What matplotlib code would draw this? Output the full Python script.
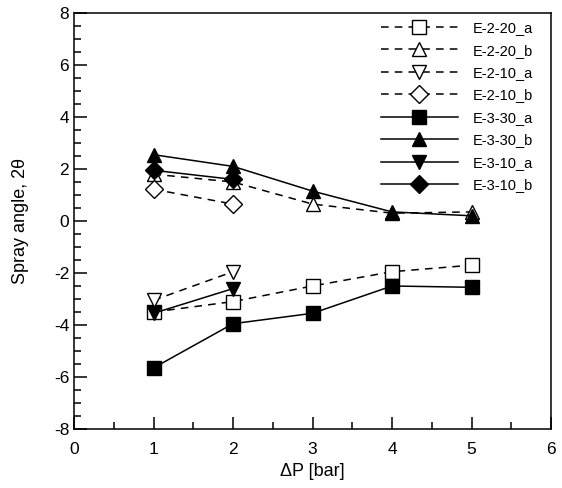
import matplotlib
matplotlib.use("Agg")
from matplotlib import pyplot as plt
from matplotlib.ticker import MultipleLocator

plt.rcParams['font.family'] = ['Liberation Sans', 'DejaVu Sans']
plt.rcParams['axes.unicode_minus'] = False

# data
dp = [1, 2, 3, 4, 5]
dp_short = [1, 2]

e2_20_a = [-3.5, -3.1, -2.5, -1.95, -1.7]
e2_20_b = [1.8, 1.5, 0.65, 0.3, 0.35]
e2_10_a = [-3.05, -1.95]
e2_10_b = [1.22, 0.65]
e3_30_a = [-5.65, -3.95, -3.55, -2.5, -2.55]
e3_30_b = [2.55, 2.1, 1.15, 0.35, 0.2]
e3_10_a = [-3.55, -2.6]
e3_10_b = [1.95, 1.6]

fig = plt.figure(figsize=(5.62, 4.88), dpi=100)
ax = fig.add_axes([0.1317, 0.1209, 0.8488, 0.8525])

ms = 10.5
open_kw = dict(color='black', linestyle='--', markerfacecolor='white',
               markeredgecolor='black', markersize=ms, linewidth=1.1,
               dashes=(5, 4))
fill_kw = dict(color='black', linestyle='-', markerfacecolor='black',
               markeredgecolor='black', markersize=ms, linewidth=1.1)

ax.plot(dp, e2_20_a, marker='s', label='E-2-20_a', **open_kw)
ax.plot(dp, e2_20_b, marker='^', label='E-2-20_b', **open_kw)
ax.plot(dp_short, e2_10_a, marker='v', label='E-2-10_a', **open_kw)
ax.plot(dp_short, e2_10_b, marker='D', label='E-2-10_b',
        **{**open_kw, 'markersize': 9.5})
ax.plot(dp, e3_30_a, marker='s', label='E-3-30_a', **fill_kw)
ax.plot(dp, e3_30_b, marker='^', label='E-3-30_b', **fill_kw)
ax.plot(dp_short, e3_10_a, marker='v', label='E-3-10_a', **fill_kw)
ax.plot(dp_short, e3_10_b, marker='D', label='E-3-10_b',
        **{**fill_kw, 'markersize': 9.5})

ax.set_xlim(0, 6)
ax.set_ylim(-8, 8)
ax.xaxis.set_major_locator(MultipleLocator(1))
ax.xaxis.set_minor_locator(MultipleLocator(0.5))
ax.yaxis.set_major_locator(MultipleLocator(2))
ax.yaxis.set_minor_locator(MultipleLocator(0.5))
ax.tick_params(which='both', direction='in', top=False, right=False,
               labelsize=12.5, width=1.1)
ax.tick_params(which='major', length=9)
ax.tick_params(which='minor', length=5)
ax.tick_params(axis='x', which='major', pad=9)
for s in ax.spines.values():
    s.set_linewidth(1.1)

ax.set_xlabel('ΔP [bar]', fontsize=13, labelpad=5)
ax.set_ylabel('Spray angle, 2θ', fontsize=13, labelpad=18)

ax.legend(loc='upper left', bbox_to_anchor=(0.615, 1.012), fontsize=10.5,
          frameon=False, handlelength=5.3, labelspacing=0.58,
          borderpad=0.4, handletextpad=1.0)

fig.savefig('out.png', dpi=100)
